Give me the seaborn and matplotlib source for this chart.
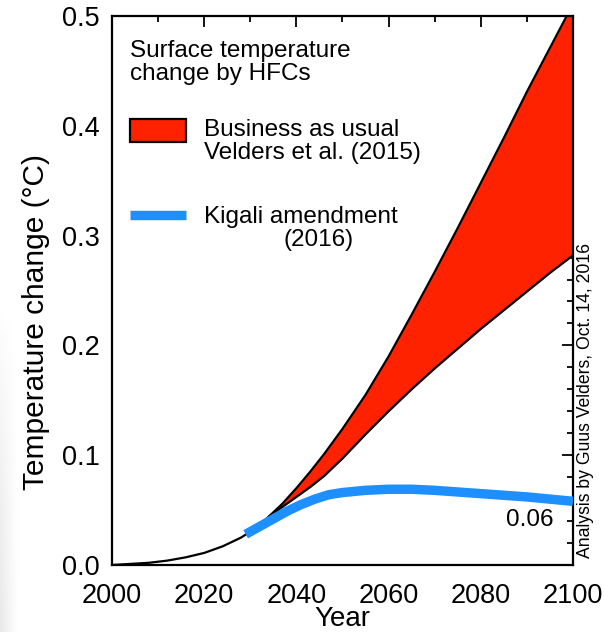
import numpy as np
import pandas as pd
import matplotlib
matplotlib.use("Agg")
import matplotlib.pyplot as plt
import seaborn as sns
from matplotlib.ticker import MultipleLocator
from matplotlib.patches import Rectangle
from matplotlib.lines import Line2D

# ---- data ----
hist_years = [2000, 2004, 2008, 2012, 2016, 2020, 2024, 2028, 2031, 2034]
hist_temp = [0.0, 0.001, 0.002, 0.004, 0.007, 0.011, 0.017, 0.025, 0.033, 0.044]

bau_years = [2034, 2037, 2040, 2043, 2046, 2050, 2055, 2060, 2065, 2070, 2075, 2080, 2085, 2090, 2095, 2100]
bau_upper = [0.044, 0.056, 0.070, 0.085, 0.101, 0.124, 0.155, 0.190, 0.228, 0.267, 0.307, 0.348, 0.389, 0.431, 0.471, 0.511]
bau_lower = [0.044, 0.053, 0.062, 0.071, 0.081, 0.097, 0.119, 0.140, 0.160, 0.179, 0.197, 0.215, 0.232, 0.249, 0.266, 0.282]

kigali_years = [2029, 2032, 2035, 2038, 2041, 2044, 2047, 2050, 2055, 2060, 2065, 2070, 2075, 2080, 2085, 2090, 2095, 2100]
kigali_temp = [0.028, 0.035, 0.042, 0.049, 0.055, 0.060, 0.064, 0.066, 0.068, 0.069, 0.069, 0.068, 0.0665, 0.065, 0.0635, 0.062, 0.060, 0.058]

x_ticks = [2000, 2020, 2040, 2060, 2080, 2100]
y_ticks = [0.0, 0.1, 0.2, 0.3, 0.4, 0.5]

RED = "#FF2200"
BLUE = "#1E8FFF"

sns.set_theme(style="white")
plt.rcParams["font.family"] = ["Liberation Sans", "DejaVu Sans"]

fig = plt.figure(figsize=(6.04, 6.32), dpi=100)

# faint grey slide shading at the far left edge (as in the reference image)
bg = fig.add_axes([0, 0, 18 / 604, 320 / 632], zorder=-10)
h = np.linspace(0.91, 1.0, 32)[None, :]
v = np.linspace(1.0, 0.0, 64)[:, None] ** 0.7
shade = 1 - (1 - h) * v
bg.imshow(shade, cmap="gray", vmin=0, vmax=1, aspect="auto",
          extent=[0, 1, 0, 1], origin="lower")
bg.set_axis_off()

ax = fig.add_axes([112 / 604, 1 - 565 / 632, 461 / 604, 549 / 632])

hist = pd.DataFrame({"year": hist_years, "temp": hist_temp})
bau = pd.DataFrame({"year": bau_years, "upper": bau_upper, "lower": bau_lower})
kig = pd.DataFrame({"year": kigali_years, "temp": kigali_temp})

ax.fill_between(bau["year"], bau["lower"], bau["upper"], color=RED, lw=0, zorder=1)
sns.lineplot(data=bau, x="year", y="upper", ax=ax, color="black", lw=1.6, zorder=2)
sns.lineplot(data=bau, x="year", y="lower", ax=ax, color="black", lw=1.6, zorder=2)
sns.lineplot(data=hist, x="year", y="temp", ax=ax, color="black", lw=1.6, zorder=2)
sns.lineplot(data=kig, x="year", y="temp", ax=ax, color=BLUE, lw=6.8, zorder=3,
             solid_capstyle="butt")

ax.set_xlim(2000, 2100)
ax.set_ylim(0.0, 0.5)
ax.set_xticks(x_ticks)
ax.set_yticks(y_ticks)
ax.set_xticklabels([str(t) for t in x_ticks])
ax.set_yticklabels([f"{t:.1f}" for t in y_ticks])
ax.xaxis.set_minor_locator(MultipleLocator(10))
ax.yaxis.set_minor_locator(MultipleLocator(0.02))
ax.tick_params(which="both", direction="in", top=True, right=True, width=1.3,
               color="black", labelsize=19.5, labelcolor="black")
ax.tick_params(axis="x", which="major", length=8, pad=13)
ax.tick_params(axis="y", which="major", length=8, pad=9)
ax.tick_params(which="minor", length=4)
for s in ax.spines.values():
    s.set_color("black")
    s.set_linewidth(1.6)

ax.set_xlabel("Year", fontsize=20, color="black", labelpad=-2.5)
ax.set_ylabel("Temperature change (°C)", fontsize=21.5, color="black")
ax.yaxis.set_label_coords(-0.134, 0.443)

# legend-like annotation block
ax.text(0.04, 0.916, "Surface temperature\nchange by HFCs", transform=ax.transAxes,
        fontsize=17.5, va="center", ha="left", color="black", linespacing=1.05)
ax.add_patch(Rectangle((0.038, 0.770), 0.122, 0.043, transform=ax.transAxes,
                       facecolor=RED, edgecolor="black", lw=1.6, zorder=5))
ax.text(0.2, 0.771, "Business as usual\nVelders et al. (2015)", transform=ax.transAxes,
        fontsize=17.5, va="center", ha="left", color="black", linespacing=1.05)
ax.add_line(Line2D([0.038, 0.16], [0.6375, 0.6375], transform=ax.transAxes,
                   color=BLUE, lw=6.8, solid_capstyle="butt"))
ax.text(0.2, 0.634, "Kigali amendment", transform=ax.transAxes,
        fontsize=17.5, va="center", ha="left", color="black")
ax.text(0.371, 0.592, "(2016)", transform=ax.transAxes,
        fontsize=17.5, va="center", ha="left", color="black")

ax.text(0.957, 0.082, "0.06", transform=ax.transAxes, fontsize=17.5,
        ha="right", va="center", color="black")

fig.text(0.969, 0.367, "Analysis by Guus Velders, Oct. 14, 2016", rotation=90,
         fontsize=12.7, ha="center", va="center", color="black")

fig.savefig("out.png", dpi=100)
